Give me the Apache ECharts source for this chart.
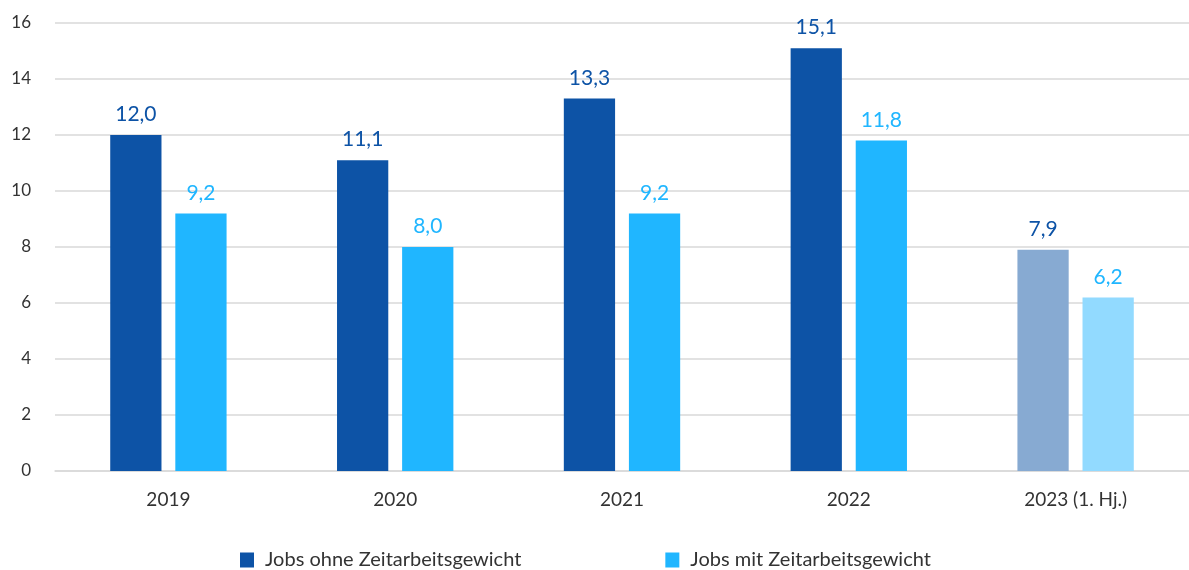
<!DOCTYPE html>
<html><head><meta charset="utf-8">
<script src="https://cdn.jsdelivr.net/npm/echarts@6/dist/echarts.min.js"></script>
<style>html,body{margin:0;padding:0;background:#fff}#c{width:1189px;height:570px}</style>
</head><body><div id="c"></div>
<script>
const categories = ['2019', '2020', '2021', '2022', '2023 (1. Hj.)'];
const seriesNames = ['Jobs ohne Zeitarbeitsgewicht', 'Jobs mit Zeitarbeitsgewicht'];
const ohne = [12.0, 11.1, 13.3, 15.1, 7.9];
const mit = [9.2, 8.0, 9.2, 11.8, 6.2];
const yTicks = [0, 2, 4, 6, 8, 10, 12, 14, 16];

const dark = '#0D53A6', light = '#20B6FF';
const darkPale = '#87AAD2', lightPale = '#92DAFF';
const font = 'Lato, "Open Sans", sans-serif';

function mkData(vals, pale) {
  return vals.map((v, i) => i === vals.length - 1 ? { value: v, itemStyle: { color: pale } } : v);
}
const fmt = p => p.value.toFixed(1).replace('.', ',');

const chart = echarts.init(document.getElementById('c'));
chart.setOption({
  animation: false,
  textStyle: { fontFamily: font },
  grid: { left: 55, width: 1137, top: 23, bottom: 99 },
  legend: {
    top: 545, left: 235, itemWidth: 14, itemHeight: 15, itemGap: 144,
    icon: 'rect',
    textStyle: { fontFamily: font, fontSize: 20, color: '#333', padding: [0, 0, 0, 6] },
    data: [{ name: seriesNames[0], itemStyle: { color: dark } }, { name: seriesNames[1], itemStyle: { color: light } }]
  },
  xAxis: {
    type: 'category', data: categories,
    axisLine: { lineStyle: { color: '#d9d9d9', width: 1.5 } },
    axisTick: { show: false },
    axisLabel: { color: '#333', fontSize: 19, fontFamily: font, margin: 19 }
  },
  yAxis: {
    type: 'value', min: yTicks[0], max: yTicks[yTicks.length - 1], interval: 2,
    axisLine: { show: false }, axisTick: { show: false },
    splitLine: { lineStyle: { color: '#d9d9d9', width: 1.5 } },
    axisLabel: { color: '#333', fontSize: 17, fontFamily: font, margin: 24 }
  },
  series: [
    {
      name: seriesNames[0], type: 'bar', data: mkData(ohne, darkPale),
      itemStyle: { color: dark }, barWidth: '22.6%', barGap: '27%',
      label: { show: true, position: 'top', distance: 10, color: dark, fontSize: 21, fontFamily: font, formatter: fmt }
    },
    {
      name: seriesNames[1], type: 'bar', data: mkData(mit, lightPale),
      itemStyle: { color: light }, barWidth: '22.6%',
      label: { show: true, position: 'top', distance: 10, color: light, fontSize: 21, fontFamily: font, formatter: fmt }
    }
  ]
});
</script></body></html>
